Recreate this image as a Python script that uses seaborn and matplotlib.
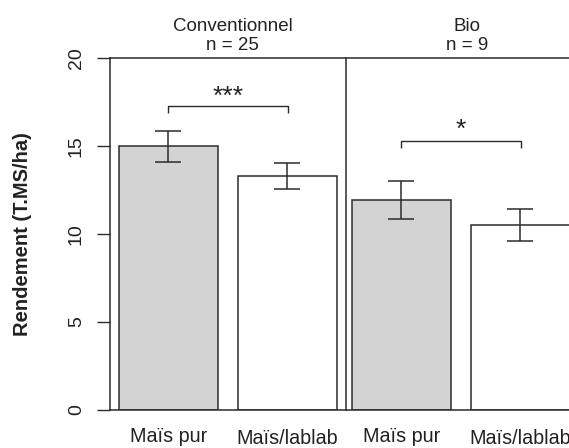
import matplotlib
matplotlib.use("Agg")
import matplotlib.pyplot as plt
import seaborn as sns
import pandas as pd

# ---- data ----
systems = ["Conventionnel", "Bio"]
n_labels = ["n = 25", "n = 9"]
treatments = ["Maïs pur", "Maïs/lablab"]
conv_mean = [15.0, 13.3]
conv_err = [0.87, 0.72]
bio_mean = [11.95, 10.5]
bio_err = [1.07, 0.92]
signif = ["***", "*"]
bracket_y = [17.29, 15.30]
star_y = [18.07, 16.17]
yticks = [0, 5, 10, 15, 20]
ylabel = "Rendement (T.MS/ha)"
bar_colors = ["#D3D3D3", "#FFFFFF"]

sns.set_style("white")
plt.rcParams['font.family'] = ['Liberation Sans', 'DejaVu Sans']

EC = "#2b2b2b"
TC = "#222222"
W, H = 569, 448
fig = plt.figure(figsize=(W / 100, H / 100), dpi=100)
bottom = (H - 409.5) / H
height = 351 / H
axw = 235.6 / W
ax1 = fig.add_axes([110 / W, bottom, axw, height])
ax2 = fig.add_axes([347 / W, bottom, axw, height])

panels = [
    (ax1, conv_mean, conv_err, (-0.49, 1.49)),
    (ax2, bio_mean, bio_err, (-0.455, 1.525)),
]

for i, (ax, means, errs, xl) in enumerate(panels):
    df = pd.DataFrame({"Traitement": treatments, "Rendement": means})
    sns.barplot(data=df, x="Traitement", y="Rendement", hue="Traitement",
                order=treatments, hue_order=treatments,
                palette=dict(zip(treatments, bar_colors)), saturation=1,
                width=0.8333, edgecolor=EC, linewidth=1.1, legend=False,
                errorbar=None, ax=ax)
    xs = list(range(len(treatments)))
    ax.errorbar(xs, means, yerr=errs, fmt="none", ecolor=EC,
                elinewidth=1.1, capsize=9.6, capthick=1.1, zorder=5)
    by = bracket_y[i]
    ax.plot([xs[0], xs[0], xs[1] + 0.01, xs[1] + 0.01],
            [by - 0.38, by, by, by - 0.38], color=EC, lw=1.0,
            solid_capstyle="butt", zorder=5)
    ax.text(0.505, star_y[i] - 0.25, signif[i], ha="center", va="center",
            fontsize=19, color=TC)
    ax.set_xlim(*xl)
    ax.set_ylim(0, 20)
    ax.set_xlabel("")
    ax.set_ylabel("")
    ax.tick_params(axis="x", length=0, labelsize=14.2, labelcolor=TC, pad=12.5)
    for sp in ax.spines.values():
        sp.set_color(EC)
        sp.set_linewidth(1.1)
    # panel titles
    cx = 0.52 if i == 0 else 0.511
    ax.text(cx, 1 + 27.5 / 351, systems[i], transform=ax.transAxes,
            ha="center", va="baseline", fontsize=13.5, color=TC)
    ax.text(cx, 1 + 8.5 / 351, n_labels[i], transform=ax.transAxes,
            ha="center", va="baseline", fontsize=13.5, color=TC)

# x label offsets (second label sits slightly lower)
for ax in (ax1, ax2):
    labs = ax.get_xticklabels()
    for j, t in enumerate(labs):
        if j == 1:
            t.set_y(-2.5 / 351)

ax1.set_yticks(yticks)
ax1.set_yticklabels([str(v) for v in yticks])
ax1.tick_params(axis="y", left=True, length=9.1, width=1.0, color=EC,
                labelsize=14, labelcolor=TC, pad=9, labelrotation=90)
for t in ax1.get_yticklabels():
    t.set_va("center")
ax1.set_ylabel(ylabel, fontsize=14.5, fontweight="bold", color=TC)
ax1.yaxis.set_label_coords(-0.33, 0.5)

ax2.set_yticks([])
ax2.spines["left"].set_visible(False)

fig.savefig("out.png", dpi=100)
